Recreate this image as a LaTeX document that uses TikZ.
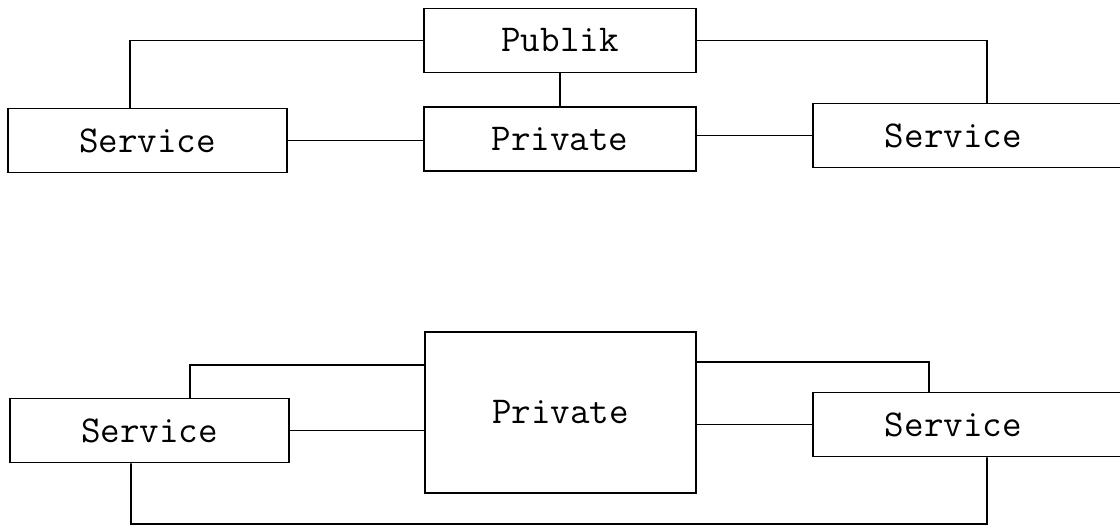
\documentclass[tikz,border=0pt]{standalone}
\begin{document}
\begin{tikzpicture}[x=1cm,y=1cm,line width=1.3pt,
  box/.style={draw,rectangle,inner sep=0pt,minimum height=1.6cm,font=\ttfamily\fontsize{27}{30}\selectfont},
  svc/.style={box,minimum width=6.975cm},
  svcr/.style={box,anchor=west,text width=6cm,align=left,inner xsep=1.8cm}]
\useasboundingbox (0,0) rectangle (28,13.15);
% upper net
\node[box,minimum width=6.8cm] (pub) at (14,12.1375) {Publik};
\node[box,minimum width=6.8cm] (priv) at (14,9.675) {Private};
\node[svc] (sl) at (3.6875,9.6375) {Service};
\node[svcr] (sr) at (20.3,9.7625) {Service};
\draw (pub) -- (priv);
\draw (pub.west) -| ([xshift=-0.44cm]sl.north);
\draw (pub.east) -| ([xshift=4.375cm]sr.north west);
\draw (sl.east) -- (sl.east -| priv.west);
\draw (sr.west) -- (sr.west -| priv.east);
% lower net
\node[box,minimum width=6.775cm,minimum height=4.025cm] (privb) at (14.0125,2.8375) {Private};
\node[svc] (slb) at (3.7375,2.3875) {Service};
\node[svcr] (srb) at (20.3,2.5375) {Service};
\coordinate (loop) at (24.675,0.05);
\draw ([yshift=1.1875cm]privb.west) -| ([xshift=1.0125cm]slb.north);
\draw ([yshift=1.2625cm]privb.east) -| ([xshift=2.925cm]srb.north west);
\draw (slb.east) -- (slb.east -| privb.west);
\draw (srb.west) -- (srb.west -| privb.east);
\draw ([xshift=-0.4625cm]slb.south) |- (loop) -- ([xshift=4.375cm]srb.south west);
\end{tikzpicture}
\end{document}
